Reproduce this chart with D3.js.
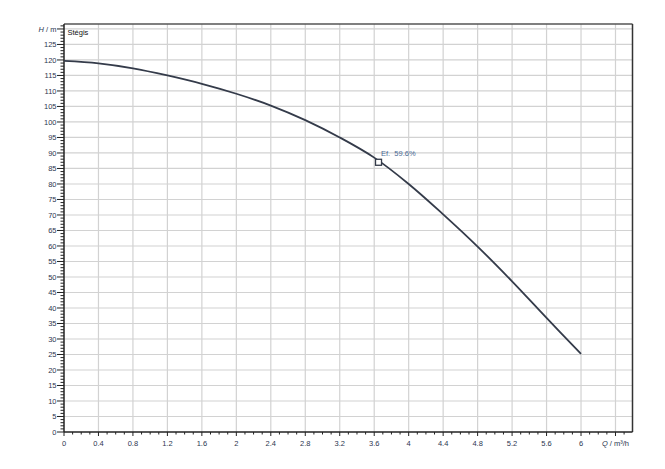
<!DOCTYPE html>
<html><head><meta charset="utf-8">
<script src="https://cdn.jsdelivr.net/npm/d3@7"></script>
<style>
body{margin:0;background:#fff;}
svg{display:block;font-family:"Liberation Sans",Arial,sans-serif;}
</style></head>
<body><svg id="c" width="665" height="469"></svg>
<script>
const flowQ = [0, 0.4, 0.8, 1.2, 1.6, 2.0, 2.4, 2.8, 3.2, 3.6, 4.0, 4.4, 4.8, 5.2, 5.6, 6.0];
const headH = [119.7, 118.9, 117.3, 115.0, 112.3, 109.1, 105.3, 100.6, 95.0, 88.5, 80.0, 70.2, 59.8, 48.6, 36.8, 25.2];
const xTickVals = [0, 0.4, 0.8, 1.2, 1.6, 2, 2.4, 2.8, 3.2, 3.6, 4, 4.4, 4.8, 5.2, 5.6, 6];
const yTickVals = [0,5,10,15,20,25,30,35,40,45,50,55,60,65,70,75,80,85,90,95,100,105,110,115,120,125];
const xAxisTitle = "Q / m³/h";
const yAxisTitle = "H / m";
const brandLabel = "Stégis";
const effPoint = {q: 3.65, h: 87.0, label: "Ef.  59.6%"};

const svg = d3.select("#c");
const L = 64, R = 632.5, T = 24, B = 432;
const x = d3.scaleLinear().domain([0, 6.6]).range([L, 64 + 6.6 * 86.17]);
const y = d3.scaleLinear().domain([0, 131.6]).range([B, T]);

// grid
const gridX = d3.range(0.4, 6.5, 0.4);
svg.append("g").selectAll("line").data(gridX).join("line")
  .attr("x1", d => x(d)).attr("x2", d => x(d)).attr("y1", T).attr("y2", B)
  .attr("stroke", "#d2d2d2").attr("stroke-width", 1.2);
const gridY = d3.range(5, 131, 5);
svg.append("g").selectAll("line").data(gridY).join("line")
  .attr("x1", L).attr("x2", R).attr("y1", d => y(d)).attr("y2", d => y(d))
  .attr("stroke", "#d2d2d2").attr("stroke-width", 1.2);

// frame top & right
svg.append("line").attr("x1", L).attr("x2", R).attr("y1", T).attr("y2", T).attr("stroke", "#555").attr("stroke-width", 1.3);
svg.append("line").attr("x1", R).attr("x2", R).attr("y1", T).attr("y2", B).attr("stroke", "#333").attr("stroke-width", 1.5);

// y axis
const yMinor = d3.range(0, 132, 1);
svg.append("g").selectAll("line").data(yMinor).join("line")
  .attr("x1", d => d % 5 === 0 ? L - 7 : L - 3.5).attr("x2", L)
  .attr("y1", d => y(d)).attr("y2", d => y(d))
  .attr("stroke", "#222").attr("stroke-width", 1);
svg.append("line").attr("x1", L).attr("x2", L).attr("y1", T).attr("y2", B).attr("stroke", "#222").attr("stroke-width", 1.5);
svg.append("g").selectAll("text").data(yTickVals).join("text")
  .attr("x", L - 7.5).attr("y", d => y(d)).attr("dy", "0.35em")
  .attr("text-anchor", "end").attr("font-size", 7.5).attr("fill", "#2c3650")
  .text(d => d);
svg.append("text").attr("x", L - 7.5).attr("y", y(130)).attr("dy", "0.35em")
  .attr("text-anchor", "end").attr("font-size", 7.5).attr("fill", "#2c3650")
  .html('<tspan font-style="italic">H</tspan> / m');

// x axis
const xMinor = d3.range(0, 66, 1).map(i => i / 10);
svg.append("g").selectAll("line").data(xMinor).join("line")
  .attr("x1", d => x(d)).attr("x2", d => x(d))
  .attr("y1", B).attr("y2", (d, i) => i % 4 === 0 ? B + 4 : B + 2.5)
  .attr("stroke", "#222").attr("stroke-width", 1);
svg.append("line").attr("x1", L).attr("x2", R).attr("y1", B).attr("y2", B).attr("stroke", "#222").attr("stroke-width", 1.5);
svg.append("g").selectAll("text").data(xTickVals).join("text")
  .attr("x", d => x(d)).attr("y", B + 11).attr("dy", "0.35em")
  .attr("text-anchor", "middle").attr("font-size", 7.5).attr("fill", "#2c3650")
  .text(d => d);
svg.append("text").attr("x", x(6.4)).attr("y", B + 11).attr("dy", "0.35em")
  .attr("text-anchor", "middle").attr("font-size", 7.5).attr("fill", "#2c3650")
  .html('<tspan font-style="italic">Q</tspan> / m³/h');

// brand label
svg.append("text").attr("x", 67.5).attr("y", 32).attr("dy", "0.35em")
  .attr("font-size", 7.5).attr("fill", "#111").text(brandLabel);

// curve
const pts = flowQ.map((q, i) => [q, headH[i]]);
const line = d3.line().x(d => x(d[0])).y(d => y(d[1])).curve(d3.curveCatmullRom.alpha(0.5));
svg.append("path").datum(pts).attr("d", line)
  .attr("fill", "none").attr("stroke", "#343b4a").attr("stroke-width", 1.8);

// efficiency marker
svg.append("rect").attr("x", x(effPoint.q) - 3).attr("y", y(effPoint.h) - 3)
  .attr("width", 6).attr("height", 6).attr("fill", "#fff")
  .attr("stroke", "#343b4a").attr("stroke-width", 1.3);
svg.append("text").attr("x", x(effPoint.q) + 2.5).attr("y", y(effPoint.h) - 6)
  .attr("font-size", 7.5).attr("fill", "#4a6a95").attr("xml:space", "preserve")
  .text(effPoint.label);
</script></body></html>
